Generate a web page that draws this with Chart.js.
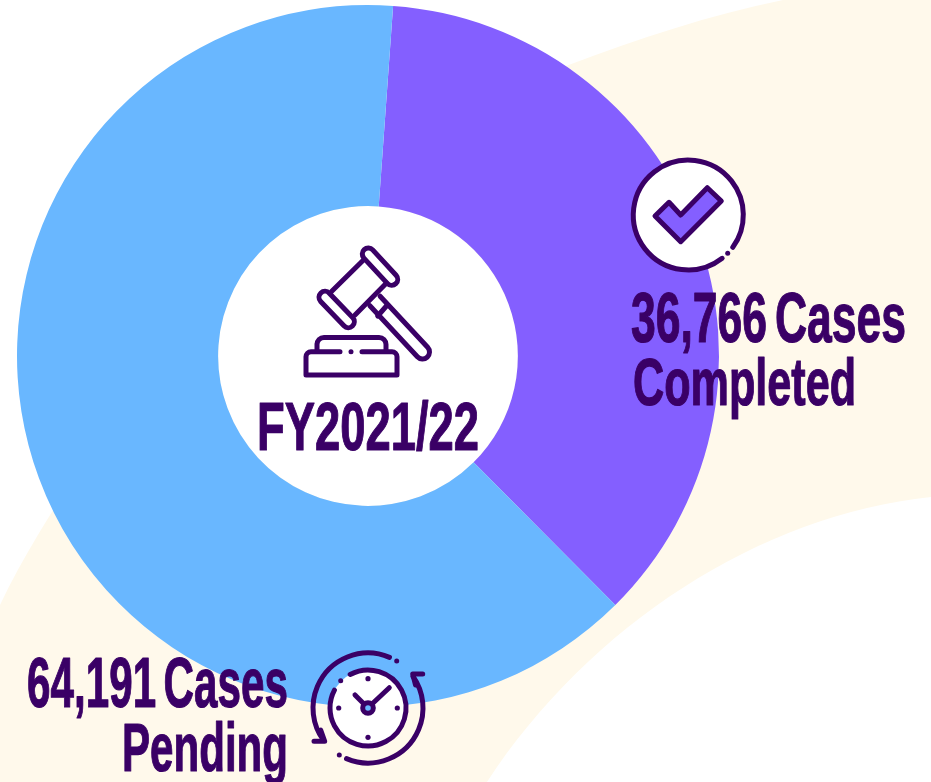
<!DOCTYPE html>
<html>
<head>
<meta charset="utf-8">
<title>FY2021/22 Cases</title>
<script src="https://cdn.jsdelivr.net/npm/chart.js@4"></script>
<style>
  html, body { margin: 0; padding: 0; background: #fff; }
  canvas { display: block; }
</style>
</head>
<body>
<canvas id="casesChart" width="931" height="782"></canvas>
<script>
// data
const statuses = ['Completed', 'Pending'];
const caseCounts = [36766, 64191];
const centerLabel = 'FY2021/22';
const completedLines = ['36,766 Cases', 'Completed'];
const pendingLines = ['64,191 Cases', 'Pending'];

// theme colors
const PURPLE = '#845FFF';
const BLUE = '#69B7FF';
const CREAM = '#FFF9EB';
const DARK = '#3A0066';
const FONT = '"Liberation Sans Narrow", "Liberation Sans", sans-serif';

// draws one line squeezed to the exact width of the original lettering
function fitText(ctx, text, left, right, base, capH) {
    ctx.save();
    ctx.font = 'bold ' + Math.round(capH / 0.69) + 'px ' + FONT;
    ctx.textAlign = 'left';
    ctx.textBaseline = 'alphabetic';
    ctx.wordSpacing = '-7px';
    ctx.fillStyle = DARK;
    ctx.strokeStyle = DARK;
    ctx.lineWidth = 1.2;
    ctx.lineJoin = 'round';
    const w = ctx.measureText(text).width;
    ctx.translate(left - 1, base);
    ctx.scale((right - left + 2) / w, 1);
    ctx.fillText(text, 0, 0);
    ctx.strokeText(text, 0, 0);
    ctx.restore();
}

function dot(ctx, x, y, r) {
    ctx.beginPath();
    ctx.arc(x, y, r, 0, Math.PI * 2);
    ctx.fill();
}

function rad(d) { return d * Math.PI / 180; }

function capsule(ctx, x1, y1, x2, y2, r) {
    const a = Math.atan2(y2 - y1, x2 - x1);
    ctx.beginPath();
    ctx.arc(x1, y1, r, a + Math.PI / 2, a - Math.PI / 2);
    ctx.arc(x2, y2, r, a - Math.PI / 2, a + Math.PI / 2);
    ctx.closePath();
    ctx.stroke();
}

function polyline(ctx, pts) {
    ctx.beginPath();
    pts.forEach((p, i) => i ? ctx.lineTo(p[0], p[1]) : ctx.moveTo(p[0], p[1]));
    ctx.stroke();
}

function drawGavel(ctx) {
    // handle
    const sx = 375, sy = 301, ex = 422.5, ey = 352;
    const a = Math.atan2(ey - sy, ex - sx);
    const nx = -Math.sin(a) * 7, ny = Math.cos(a) * 7;
    ctx.beginPath();
    ctx.moveTo(sx + nx, sy + ny);
    ctx.lineTo(ex + nx, ey + ny);
    ctx.arc(ex, ey, 7, a + Math.PI / 2, a - Math.PI / 2, true);
    ctx.lineTo(sx - nx, sy - ny);
    ctx.stroke();
    polyline(ctx, [[387.3, 305], [377.7, 316]]);
    // head
    polyline(ctx, [[363.5, 260], [331.5, 291.5]]);
    polyline(ctx, [[386.5, 283], [355, 315]]);
    capsule(ctx, 368.3, 254, 391.7, 279.3, 6);
    capsule(ctx, 325, 297.3, 348.3, 321.7, 6);
    // block
    ctx.beginPath();
    ctx.moveTo(317, 351);
    ctx.lineTo(317, 344);
    ctx.arcTo(317, 337.5, 324, 337.5, 7);
    ctx.lineTo(379, 337.5);
    ctx.arcTo(386, 337.5, 386, 344, 7);
    ctx.lineTo(386, 351);
    ctx.stroke();
    ctx.beginPath();
    ctx.moveTo(340, 351.7);
    ctx.lineTo(311, 351.7);
    ctx.arcTo(306, 351.7, 306, 357, 5);
    ctx.lineTo(306, 375);
    ctx.lineTo(397, 375);
    ctx.lineTo(397, 357);
    ctx.arcTo(397, 351.7, 392, 351.7, 5);
    ctx.lineTo(362, 351.7);
    ctx.stroke();
    dot(ctx, 351, 351.7, 2.5);
}

function drawCheck(ctx) {
    const cx = 688.3, cy = 215;
    ctx.fillStyle = '#fff';
    dot(ctx, cx, cy, 55);
    ctx.fillStyle = DARK;
    ctx.beginPath();
    ctx.arc(cx, cy, 55, rad(52), rad(396));
    ctx.stroke();
    dot(ctx, 727.7, 253.3, 2.5);
    ctx.beginPath();
    [[655, 216], [669, 202.3], [680.7, 215], [707.3, 187.7], [721.3, 201], [680.7, 241.7]]
        .forEach((p, i) => i ? ctx.lineTo(p[0], p[1]) : ctx.moveTo(p[0], p[1]));
    ctx.closePath();
    ctx.fillStyle = PURPLE;
    ctx.fill();
    ctx.stroke();
    ctx.fillStyle = DARK;
}

function drawClock(ctx) {
    const cx = 368, cy = 708;
    ctx.fillStyle = '#fff';
    dot(ctx, cx, cy, 38);
    ctx.fillStyle = DARK;
    ctx.beginPath();
    ctx.arc(cx, cy, 38, rad(-118), rad(-152));
    ctx.stroke();
    dot(ctx, 340.7, 680.7, 2.5);
    dot(ctx, cx, cy - 29.3, 2.6);
    dot(ctx, cx + 29.3, cy, 2.6);
    dot(ctx, cx, cy + 29.3, 2.6);
    dot(ctx, cx - 29.3, cy, 2.6);
    polyline(ctx, [[355, 695], [364, 704]]);
    polyline(ctx, [[372, 704], [389.3, 687.7]]);
    ctx.fillStyle = BLUE;
    dot(ctx, cx, cy, 5.3);
    ctx.stroke();
    ctx.fillStyle = DARK;
    // round arrows
    ctx.beginPath();
    ctx.arc(cx, cy, 55, rad(-67), rad(144), true);
    ctx.stroke();
    polyline(ctx, [[314, 741.3], [324.7, 741.3], [320.7, 730]]);
    dot(ctx, 396.7, 661, 2.5);
    ctx.beginPath();
    ctx.arc(cx, cy, 55, rad(113), rad(-35), true);
    ctx.stroke();
    polyline(ctx, [[422.7, 674], [412.7, 674], [415.5, 685]]);
    dot(ctx, 339.3, 755, 2.5);
}

const artwork = {
    id: 'artwork',
    beforeDraw(chart) {
        // cream swoosh behind the ring
        const ctx = chart.ctx;
        ctx.save();
        ctx.fillStyle = CREAM;
        ctx.beginPath();
        ctx.moveTo(0, 605);
        ctx.bezierCurveTo(90, 420, 300, 170, 566, 66);
        ctx.bezierCurveTo(640, 38, 710, 15, 783, 0);
        ctx.lineTo(931, 0);
        ctx.lineTo(931, 497);
        ctx.bezierCurveTo(760, 515, 590, 625, 487, 782);
        ctx.lineTo(0, 782);
        ctx.closePath();
        ctx.fill();
        ctx.restore();
    },
    beforeDatasetsDraw(chart) {
        const arc = chart.getDatasetMeta(0).data[0];
        const ctx = chart.ctx;
        ctx.save();
        ctx.fillStyle = '#fff';
        dot(ctx, arc.x, arc.y, arc.innerRadius);
        ctx.restore();
    },
    afterDraw(chart) {
        const ctx = chart.ctx;
        ctx.save();
        ctx.strokeStyle = DARK;
        ctx.fillStyle = DARK;
        ctx.lineWidth = 5;
        ctx.lineCap = 'round';
        ctx.lineJoin = 'round';
        drawGavel(ctx);
        drawCheck(ctx);
        drawClock(ctx);
        ctx.restore();

        fitText(ctx, centerLabel, 258, 478, 450, 47);
        fitText(ctx, completedLines[0], 632, 905, 342, 48);
        fitText(ctx, completedLines[1], 634, 855, 405, 46);
        fitText(ctx, pendingLines[0], 28, 287, 707, 48);
        fitText(ctx, pendingLines[1], 123, 287, 771, 47);
    }
};

new Chart(document.getElementById('casesChart'), {
    type: 'doughnut',
    data: {
        labels: statuses,
        datasets: [{ data: caseCounts, backgroundColor: [PURPLE, BLUE], borderWidth: 0 }]
    },
    options: {
        responsive: false,
        animation: false,
        cutout: '42.7%',
        rotation: 4.1,
        layout: { padding: { left: 17, top: 5, right: 212, bottom: 75 } },
        plugins: { legend: { display: false }, tooltip: { enabled: false } }
    },
    plugins: [artwork]
});
</script>
</body>
</html>
